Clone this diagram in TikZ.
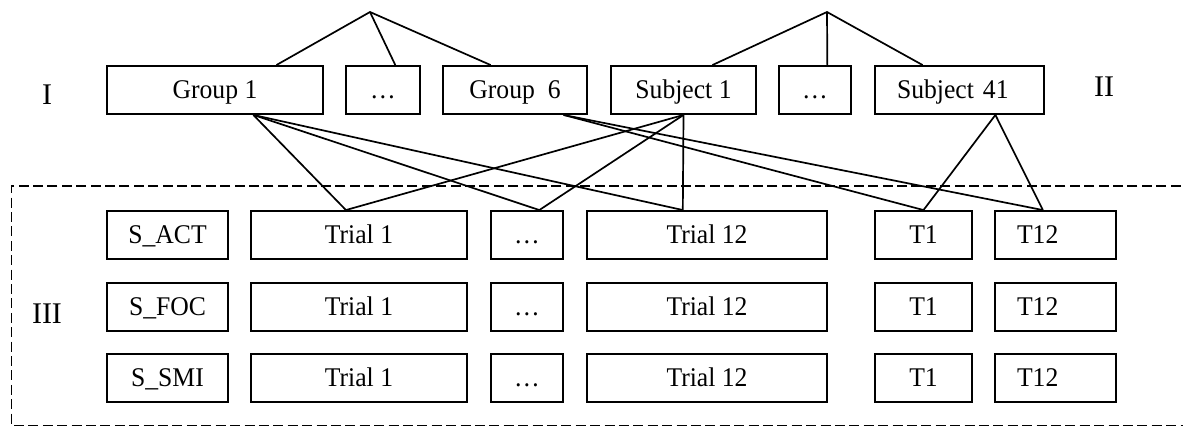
\documentclass[tikz,border=0pt]{standalone}
\usepackage{fontspec}
\setmainfont{Liberation Serif}
\newfontfamily\labelfont[FakeStretch=0.95]{Liberation Serif}
\usetikzlibrary{calc}

\tikzset{
  cell/.style={draw, line width=0.95pt, rectangle, minimum height=24pt,
    inner xsep=0pt, text height=0.81em, text depth=0pt,
    font=\labelfont\fontsize{13.5}{16}\selectfont, minimum width=#1},
  lcell/.style={cell=#1, inner xsep=11pt, text width=#1-22pt, align=left},
  level/.style={anchor=base, font=\fontsize{15}{18}\selectfont},
  link/.style={line width=0.85pt},
  frame/.style={line width=0.8pt, dash pattern=on 5pt off 2.2pt}
}

\begin{document}
\begin{tikzpicture}[x=0.5pt, y=-0.5pt]
\useasboundingbox (0,0) rectangle (1183,427);

% level labels
\node[level] (lvI)   at (47,105)   {I};
\node[level] (lvII)  at (1104,97)  {II};
\node[level] (lvIII) at (47,323)   {III};

% top row: groups and subjects
\node[cell=108pt]   (g1)  at (215,90)   {Group 1};
\node[cell=37pt]    (gd)  at (383,90)   {…};
\node[cell=72pt]    (g6)  at (515,90)   {Group\ \ 6};
\node[cell=72.5pt]  (s1)  at (683.5,90) {Subject 1};
\node[cell=36pt]    (sd)  at (815,90)   {…};
\node[lcell=84.5pt] (s41) at (959.5,90) {Subject 41};

% roots of the two trees
\coordinate (rootA) at (370,12);
\coordinate (rootB) at (827,12);

% trial grid
\foreach \r/\y/\lab in {1/235/S\_ACT, 2/307/S\_FOC, 3/378/S\_SMI}{
  \node[cell=60.5pt]  (sv\r)  at (167.5,\y)  {\lab};
  \node[cell=108pt]   (ta\r)  at (359,\y)    {Trial 1};
  \node[cell=36pt]    (td\r)  at (527,\y)    {…};
  \node[cell=120pt]   (tb\r)  at (707,\y)    {Trial 12};
  \node[cell=48.5pt]  (tc\r)  at (923.5,\y)  {T1};
  \node[lcell=60.5pt] (te\r)  at (1055.5,\y) {T12};
}

% dashed frame, open to the right
\draw[frame] (1195,186) -- (11.5,186) -- (11.5,425.5) -- (1195,425.5);

% attachment points
\coordinate (g1t)  at ($(g1.north west)!0.782!(g1.north east)$);
\coordinate (gdt)  at ($(gd.north west)!0.662!(gd.north east)$);
\coordinate (g6t)  at ($(g6.north west)!0.333!(g6.north east)$);
\coordinate (s1t)  at ($(s1.north west)!0.697!(s1.north east)$);
\coordinate (sdt)  at ($(sd.north west)!0.667!(sd.north east)$);
\coordinate (s41t) at ($(s41.north west)!0.284!(s41.north east)$);

\coordinate (g1b)  at ($(g1.south west)!0.676!(g1.south east)$);
\coordinate (g6b)  at ($(g6.south west)!0.833!(g6.south east)$);
\coordinate (s1b)  at (s1.south);
\coordinate (s41b) at ($(s41.south west)!0.710!(s41.south east)$);

\coordinate (tat) at ($(ta1.north west)!0.44!(ta1.north east)$);
\coordinate (tdt) at ($(td1.north west)!0.667!(td1.north east)$);
\coordinate (tbt) at ($(tb1.north west)!0.4!(tb1.north east)$);
\coordinate (tct) at (tc1.north);
\coordinate (tet) at ($(te1.north west)!0.397!(te1.north east)$);

% trees
\draw[link] (g1t) -- (rootA) -- (g6t);
\draw[link] (rootA) -- (gdt);
\draw[link] (s1t) -- (rootB) -- (s41t);
\draw[link] (rootB) -- (sdt);

% group / subject to trials
\draw[link] (g1b) -- (tat);
\draw[link] (g1b) -- (tdt);
\draw[link] (g1b) -- (tbt);
\draw[link] (s1b) -- (tat);
\draw[link] (s1b) -- (tdt);
\draw[link] (s1b) -- (tbt);
\draw[link] (g6b) -- (tct);
\draw[link] (g6b) -- (tet);
\draw[link] (s41b) -- (tct);
\draw[link] (s41b) -- (tet);
\end{tikzpicture}
\end{document}
